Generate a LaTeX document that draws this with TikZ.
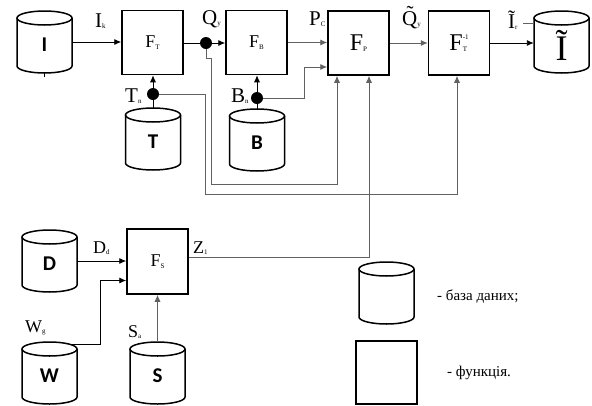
\documentclass[tikz,border=0pt]{standalone}
\usepackage{fontspec}
\setmainfont{Liberation Serif}
\newfontfamily\cylfont{Carlito}
\usetikzlibrary{arrows.meta,calc}

% small lowered index after a letter
\newcommand\lowsub[1]{\raisebox{-1.5pt}{\fontsize{7}{7}\selectfont #1}}
\newcommand\fsmall{\fontsize{18}{18}\selectfont}
\newcommand\fbig{\fontsize{24}{24}\selectfont}
\newcommand\cyltext{\cylfont\bfseries\fontsize{21}{21}\selectfont}
\newcommand\legendfont{\fontsize{15}{15}\selectfont}

\tikzset{
  fbox/.style={draw, line width=1.5pt, minimum width=61pt, minimum height=64pt, inner sep=0pt},
  lbl/.style={inner sep=0pt, anchor=base west, font=\fontsize{21}{21}\selectfont},
  lbls/.style={inner sep=0pt, anchor=base west, font=\fontsize{18}{18}\selectfont},
  link/.style={draw=black!62, line width=0.9pt},
  solidlink/.style={draw=black, line width=0.9pt},
  arr/.style={-{Latex[length=7pt,width=6pt]}},
  junction/.style={circle, fill=black, inner sep=0pt, minimum size=12pt},
  % bare database drum
  pics/drum/.style={code={
    \draw[line width=1.5pt] (-27.5,-24) -- (-27.5,24)
      arc[start angle=180, end angle=0, x radius=27.5, y radius=7] -- (27.5,-24);
    \draw[line width=1.5pt] (0,-24) ellipse[x radius=27.5, y radius=7];
    \node[inner sep=0pt, minimum width=55pt, minimum height=62pt] (-b) at (0,0) {};
  }},
  % database drum with its letter
  pics/dbcyl/.style={code={
    \pic {drum};
    \node[inner sep=0pt] (-t) at (0,3) {#1};
  }},
}

\begin{document}
\begin{tikzpicture}[x=1pt, y=-1pt]
\useasboundingbox (0,0) rectangle (592,405);

% databases
\pic (I)  at (44.5,42)  {dbcyl={\cyltext I}};
\pic (T)  at (153,139)  {dbcyl={\cyltext T}};
\pic (B)  at (257,140)  {dbcyl={\cyltext B}};
\pic (It) at (561.5,42) {dbcyl={\raisebox{-4pt}{\fontsize{36}{36}\selectfont\~I}}};
\pic (D)  at (49.5,261) {dbcyl={\cyltext D}};
\pic (W)  at (49.5,373) {dbcyl={\cyltext W}};
\pic (S)  at (157.5,373) {dbcyl={\cyltext S}};

% functions
\node[fbox, font=\fsmall] (FT)  at (152.5,42.5) {F\lowsub{T}};
\node[fbox, font=\fsmall] (FB)  at (256.5,42.5) {F\lowsub{B}};
\node[fbox, font=\fbig]   (FP)  at (358.5,43)   {F\lowsub{P}};
\node[fbox, font=\fbig]   (FTi) at (459,43)
  {F\raisebox{-1pt}{\fontsize{7}{7}\selectfont\shortstack[l]{-1\\[5pt]T}}};
\node[fbox, font=\fsmall, minimum height=65pt] (FS) at (157.5,261.5) {F\lowsub{S}};

% branch points
\node[junction] (dq) at (206,43) {};
\node[junction] (dt) at (153,94) {};
\node[junction] (db) at (257,98) {};

% signal labels
\node[lbl]  (lIk) at (95,27)   {I\lowsub{k}};
\node[lbl]  (lQy) at (202,24)  {Q\lowsub{y}};
\node[lbl]  (lTn) at (125,102) {T\lowsub{n}};
\node[lbl]  (lBn) at (231,102) {B\lowsub{n}};
\node[lbl]  (lPc) at (309,25)  {P\lowsub{C}};
\node[lbl]  (lQt) at (402,25)  {\~Q\lowsub{y}};
\node[lbl]  (lIr) at (508,28)  {\~I\lowsub{r}};
\node[lbls] (lDd) at (93,253)  {D\lowsub{d}};
\node[lbls] (lZ)  at (193,253) {Z\lowsub{1}};
\node[lbls] (lWg) at (25,332)  {W\lowsub{g}};
\node[lbls] (lSa) at (128,337) {S\lowsub{a}};

% upper chain
\draw[solidlink, arr] (I-b.east) -- (FT.west |- I-b.east);
\draw[solidlink] (I-b.south) -- ++(0,4);
\draw[solidlink] (FT.east |- dq) -- (dq);
\draw[solidlink, arr] (dq) -- (FB.west |- dq);
\draw[link, arr] (FB.east) -- (FP.west |- FB.east);
\draw[link, arr] (FP.east) -- (FTi.west);
\draw[solidlink, arr] (FTi.east) -- (It-b.west |- FTi.east);
\coordinate (irl) at (523,23);
\draw[link] (irl) -- (It-b.west |- irl);

% parameter feeds
\draw[solidlink] (dt |- T-b.north) -- (dt);
\draw[solidlink, arr] (dt) -- (dt |- FT.south);
\draw[solidlink] (db |- B-b.north) -- (db);
\draw[solidlink, arr] (db) -- (db |- FB.south);
\draw[link, arr] (db) -- (304,98) |- ($(FP.west)+(0,24)$);
\draw[link, arr] (dq) -- (206,58) -- (211,58) -- (211,184.5) -| ($(FP.south)+(-21.5,0)$);
\draw[link, arr] (dt) -- (205,94) -- (205,194) -| ($(FTi.south)+(-2,0)$);

% lower chain
\draw[solidlink, arr] (D-b.east) -- (FS.west |- D-b.east);
\coordinate (wout) at ($(W-b.north)+(22,2.8)$);
\draw[solidlink, arr] (wout) -- ++(28.5,0) |- ($(FS.west)+(0,19)$);
\draw[link, arr] (S-b.north) -- (S-b.north |- FS.south);
\draw[link, arr] ($(FS.east)+(0,-4)$) -| ($(FP.south)+(10.5,0)$);

% legend
\pic (Lc) at (386.5,293) {drum};
\node[inner sep=0pt, anchor=base west, font=\legendfont] (lc) at (437,300) {- база даних;};
\node[draw, line width=1.5pt, minimum width=61pt, minimum height=63pt, inner sep=0pt] (Ls) at (386.5,372.7) {};
\node[inner sep=0pt, anchor=base west, font=\legendfont] (ls) at (447,376) {- функція.};
\end{tikzpicture}
\end{document}
